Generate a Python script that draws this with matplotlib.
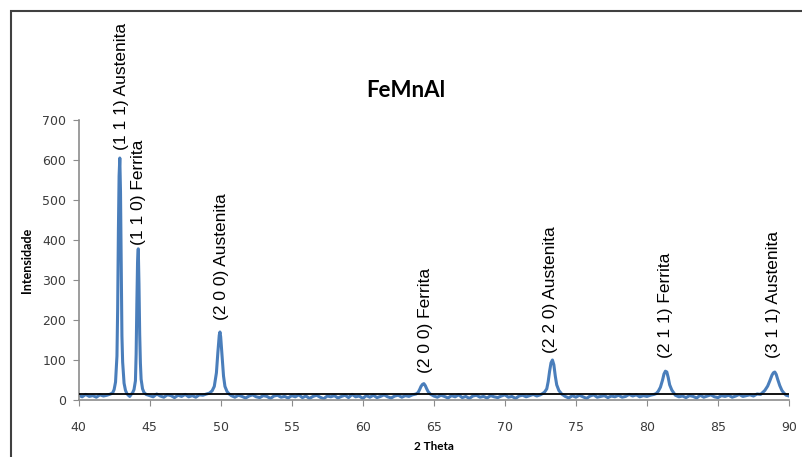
import matplotlib.pyplot as plt
from matplotlib.patches import Rectangle

# XRD scan (2 theta in degrees, counts)
two_theta = [
    # background 40-42.25
    40.0, 40.25, 40.5, 40.75, 41.0, 41.25, 41.5, 41.75, 42.0, 42.25,
    # (1 1 1) austenite
    42.4, 42.5, 42.6, 42.7, 42.75, 42.8, 42.85, 42.9, 42.95, 43.0, 43.05, 43.1, 43.2, 43.3, 43.4,
    43.5, 43.6, 43.7, 43.8, 43.9,
    # (1 1 0) ferrite
    44.0, 44.05, 44.1, 44.15, 44.2, 44.25, 44.3, 44.35, 44.4, 44.5, 44.6, 44.75,
    # background
    45.0, 45.25, 45.5, 45.75, 46.0, 46.25, 46.5, 46.75, 47.0, 47.25,
    47.5, 47.75, 48.0, 48.25, 48.5, 48.75, 49.0,
    # (2 0 0) austenite
    49.2, 49.4, 49.55, 49.7, 49.8, 49.9, 49.95, 50.0, 50.1, 50.2, 50.3, 50.45, 50.6,
    # background
    50.75, 51.0, 51.25, 51.5, 51.75, 52.0, 52.25, 52.5, 52.75, 53.0,
    53.25, 53.5, 53.75, 54.0, 54.25, 54.5, 54.75, 55.0, 55.25, 55.5,
    55.75, 56.0, 56.25, 56.5, 56.75, 57.0, 57.25, 57.5, 57.75, 58.0,
    58.25, 58.5, 58.75, 59.0, 59.25, 59.5, 59.75, 60.0, 60.25, 60.5,
    60.75, 61.0, 61.25, 61.5, 61.75, 62.0, 62.25, 62.5, 62.75, 63.0,
    63.25, 63.5,
    # (2 0 0) ferrite
    63.75, 63.9, 64.0, 64.1, 64.2, 64.3, 64.4, 64.5, 64.6, 64.75,
    # background
    65.0, 65.25, 65.5, 65.75, 66.0, 66.25, 66.5, 66.75, 67.0, 67.25,
    67.5, 67.75, 68.0, 68.25, 68.5, 68.75, 69.0, 69.25, 69.5, 69.75,
    70.0, 70.25, 70.5, 70.75, 71.0, 71.25, 71.5, 71.75, 72.0, 72.25,
    72.5,
    # (2 2 0) austenite
    72.65, 72.8, 72.95, 73.05, 73.15, 73.25, 73.35, 73.45, 73.55, 73.65, 73.8, 74.0,
    # background
    74.25, 74.5, 74.75, 75.0, 75.25, 75.5, 75.75, 76.0, 76.25, 76.5,
    76.75, 77.0, 77.25, 77.5, 77.75, 78.0, 78.25, 78.5, 78.75, 79.0,
    79.25, 79.5, 79.75, 80.0, 80.25, 80.5,
    # (2 1 1) ferrite
    80.65, 80.8, 80.95, 81.1, 81.2, 81.3, 81.4, 81.5, 81.6, 81.75, 81.9,
    # background
    82.0, 82.25, 82.5, 82.75, 83.0, 83.25, 83.5, 83.75, 84.0, 84.25,
    84.5, 84.75, 85.0, 85.25, 85.5, 85.75, 86.0, 86.25, 86.5, 86.75,
    87.0, 87.25, 87.5, 87.75, 88.0,
    # (3 1 1) austenite
    88.15, 88.3, 88.5, 88.65, 88.8, 88.9, 89.0, 89.1, 89.2, 89.35, 89.5, 89.65, 89.8, 90.0,
]
intensity = [
    12, 8, 14, 9, 11, 7, 13, 10, 12, 15,
    18, 26, 45, 110, 230, 420, 560, 605, 520, 330, 160, 95, 42, 24, 16,
    12, 9, 14, 18, 26,
    48, 115, 240, 345, 378, 290, 165, 92, 52, 28, 19, 14,
    11, 8, 15, 10, 7, 13, 11, 6, 12, 9,
    14, 8, 11, 7, 13, 12, 15,
    17, 23, 34, 68, 118, 162, 170, 158, 108, 60, 34, 21, 15,
    11, 7, 12, 9, 5, 10, 13, 8, 6, 11,
    9, 4, 10, 12, 7, 9, 5, 11, 8, 13,
    6, 10, 4, 9, 12, 7, 3, 10, 8, 11,
    5, 9, 12, 6, 14, 8, 10, 4, 11, 7,
    12, 6, 9, 13, 8, 5, 10, 12, 7, 11,
    9, 13,
    15, 19, 26, 34, 39, 41, 36, 28, 21, 15,
    10, 7, 12, 9, 5, 11, 8, 13, 6, 9,
    4, 10, 12, 7, 9, 5, 11, 8, 6, 10,
    13, 7, 9, 4, 10, 12, 8, 11, 14, 10,
    13,
    16, 20, 28, 46, 72, 93, 100, 88, 60, 38, 24, 15,
    9, 5, 11, 7, 12, 8, 4, 10, 13, 7,
    9, 11, 6, 10, 8, 12, 7, 9, 14, 10,
    13, 8, 11, 9, 12, 14,
    16, 22, 32, 50, 65, 72, 70, 56, 38, 25, 17,
    12, 8, 10, 6, 11, 9, 5, 12, 7, 10,
    13, 8, 6, 11, 9, 12, 7, 10, 14, 9,
    11, 13, 10, 15, 14,
    19, 24, 35, 48, 62, 68, 70, 64, 52, 36, 24, 17, 12, 10,
]
baseline = 16

peak_labels = ['(1 1 1) Austenita', '(1 1 0) Ferrita', '(2 0 0) Austenita', '(2 0 0) Ferrita',
               '(2 2 0) Austenita', '(2 1 1) Ferrita', '(3 1 1) Austenita']
label_x = [43.0, 44.2, 50.05, 64.4, 73.2, 81.3, 88.9]
label_y = [625, 387, 200, 67, 117, 105, 105]

fig = plt.figure(figsize=(8.02, 4.57), dpi=100)
ax = fig.add_axes([0.098, 0.1247, 0.8858, 0.6127])

ax.plot(two_theta, intensity, color='#4a7ebb', lw=2.2, zorder=2)
ax.plot([40, 90], [baseline, baseline], color='black', lw=1.3, zorder=3)

for txt, x, y in zip(peak_labels, label_x, label_y):
    ax.text(x, y, txt, rotation=90, ha='center', va='bottom', fontsize=12.5,
            family='Liberation Sans', color='black', clip_on=False)

ax.set_xlim(40, 90)
ax.set_ylim(0, 700)
ax.set_xticks(range(40, 91, 5))
ax.set_yticks(range(0, 701, 100))
for s in ['top', 'right']:
    ax.spines[s].set_visible(False)
for s in ['left', 'bottom']:
    ax.spines[s].set_color('#8c8c8c')
    ax.spines[s].set_linewidth(1.2)
ax.tick_params(axis='y', length=4, color='#8c8c8c', labelsize=9, labelcolor='#3b3b3b', pad=5)
ax.tick_params(axis='x', length=4, color='#8c8c8c', labelsize=9, labelcolor='#3b3b3b', pad=11)

fig.text(0.506, 0.803, 'FeMnAl', ha='center', va='center', fontsize=16,
         fontweight='bold', family='Lato')
fig.text(0.0337, 0.431, 'Intensidade', rotation=90, ha='center', va='center',
         fontsize=9, fontweight='bold', family='Lato')
fig.text(0.541, 0.022, '2 Theta', ha='center', va='center',
         fontsize=8.5, fontweight='bold', family='Lato')

fig.add_artist(Rectangle((0.0143, -0.5), 2, 1.477, transform=fig.transFigure,
                         fill=False, edgecolor='#404040', lw=1.5))

fig.savefig('out.png', dpi=100)
